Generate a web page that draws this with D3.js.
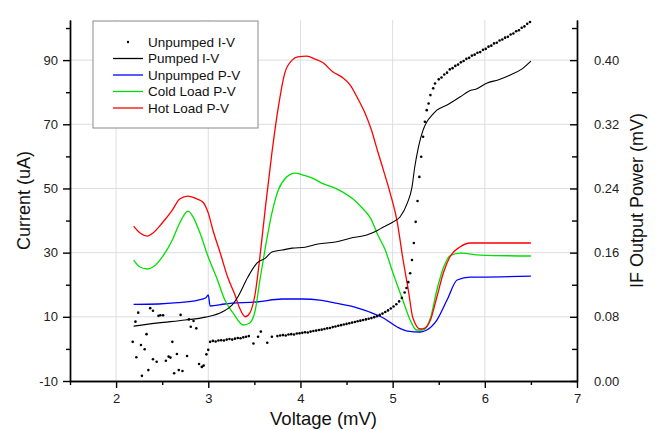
<!DOCTYPE html>
<html>
<head>
<meta charset="utf-8">
<script src="https://cdn.jsdelivr.net/npm/d3@7"></script>
<style>
  body { margin: 0; background: #fff; }
  svg { font-family: "Liberation Sans", Arial, sans-serif; }
</style>
</head>
<body>
<div id="chart"></div>
<script>
// Unpumped I-V (dots), voltage in mV, current in uA
const dotVolts = [2.18, 2.21, 2.24, 2.22, 2.27, 2.28, 2.31, 2.33, 2.35, 2.37, 2.40, 2.40, 2.44, 2.46, 2.48, 2.51,
  2.54, 2.57, 2.59, 2.61, 2.63, 2.66, 2.68, 2.70, 2.72, 2.77, 2.79, 2.81, 2.84, 2.87, 2.90, 2.93, 2.95, 2.98, 3.00,
  3.02, 3.05, 3.08, 3.11, 3.14, 3.17, 3.20, 3.23, 3.26, 3.29, 3.32, 3.35, 3.38, 3.41, 3.44, 3.49, 3.54, 3.57, 3.64,
  3.69, 3.75, 3.78, 3.81, 3.84, 3.87, 3.90, 3.93, 3.96, 3.99, 4.02, 4.05, 4.08, 4.11, 4.14, 4.17, 4.20, 4.23, 4.26,
  4.29, 4.32, 4.35, 4.38, 4.41, 4.44, 4.47, 4.50, 4.53, 4.56, 4.59, 4.62, 4.65, 4.68, 4.71, 4.74, 4.77, 4.80, 4.83,
  4.86, 4.89, 4.92, 4.95, 4.98, 5.01, 5.04, 5.07, 5.10, 5.13, 5.15, 5.17, 5.19, 5.21, 5.23, 5.25, 5.27, 5.29, 5.31,
  5.33, 5.35, 5.37, 5.39, 5.41, 5.44, 5.46, 5.50, 5.53, 5.56, 5.59, 5.62, 5.65, 5.68, 5.71, 5.74, 5.77, 5.80, 5.83,
  5.86, 5.89, 5.92, 5.95, 5.98, 6.01, 6.04, 6.07, 6.10, 6.13, 6.16, 6.19, 6.22, 6.25, 6.28, 6.31, 6.34, 6.37, 6.40,
  6.43, 6.46, 6.49];
const dotCurrent = [2.2, 8.5, 11.3, -2.6, 1.2, -8.4, -0.1, 4.6, -6.6, 12.7, 11.9, -3.2, -4.0, 10.3, 10.5, 10.5,
  -3.7, -2.4, -2.7, 2.2, -7.6, -1.6, -6.6, 10.6, -6.9, -2.2, 9.2, 6.9, 8.7, 6.4, -4.7, -5.6, -5.2, -1.7, -0.3,
  2.2, 2.5, 2.3, 2.6, 2.7, 2.6, 2.9, 3.1, 2.9, 3.2, 3.4, 3.3, 3.6, 3.8, 4.0, 1.7, 3.8, 5.4, 1.9,
  3.8, 4.0, 4.2, 4.3, 4.2, 4.5, 4.6, 4.5, 4.8, 4.9, 5.0, 5.2, 5.1, 5.4, 5.6, 5.7, 5.9, 6.0, 6.2,
  6.4, 6.5, 6.8, 7.0, 7.2, 7.4, 7.6, 7.8, 8.0, 8.2, 8.4, 8.6, 8.8, 9.0, 9.2, 9.4, 9.6, 9.9, 10.2,
  10.6, 11.0, 11.5, 12.0, 12.6, 13.2, 13.9, 14.8, 15.9, 17.6, 19.0, 20.8, 23.6, 27.7, 33.0, 39.6, 46.1, 53.6, 59.9,
  66.1, 70.8, 74.4, 76.5, 79.1, 81.2, 82.7, 84.0, 84.6, 85.5, 86.1, 87.1, 87.5, 88.2, 88.6, 89.3, 89.7, 90.4, 90.7,
  91.4, 91.7, 92.3, 92.5, 93.2, 93.5, 94.2, 94.5, 95.2, 95.4, 96.1, 96.4, 97.0, 97.3, 98.0, 98.3, 99.0, 99.3, 100.1,
  100.5, 101.3, 101.9];

// Pumped I-V (line)
const pumpVolts = [2.19, 2.46, 2.75, 2.97, 3.15, 3.26, 3.32, 3.43, 3.53, 3.62, 3.69, 3.80, 3.91, 4.05, 4.19,
  4.38, 4.54, 4.72, 4.84, 4.90, 5.00, 5.08, 5.16, 5.21, 5.24, 5.28, 5.33, 5.37, 5.43, 5.48, 5.59, 5.73,
  5.85, 5.90, 6.02, 6.15, 6.27, 6.40, 6.50];
const pumpCurrent = [7.1, 8.1, 9.0, 9.9, 11.5, 13.7, 16.2, 22.4, 26.8, 28.3, 30.2, 30.8, 31.4, 31.7, 32.7,
  33.3, 34.5, 35.5, 37.0, 38.0, 39.5, 41.1, 45.5, 50.4, 56.7, 62.9, 68.2, 70.7, 72.9, 74.4, 76.0, 78.5,
  80.6, 80.9, 82.8, 83.9, 85.3, 87.2, 89.7];

// Unpumped P-V (IF power, mV)
const unpVolts = [2.19, 2.46, 2.67, 2.89, 2.97, 3.00, 3.02, 3.18, 3.54, 3.80, 4.02, 4.21, 4.38, 4.54, 4.65,
  4.75, 4.90, 5.05, 5.16, 5.30, 5.37, 5.48, 5.59, 5.70, 5.84, 5.95, 6.50];
const unpPower = [0.0956, 0.0960, 0.0976, 0.1009, 0.1034, 0.1072, 0.0935, 0.0960, 0.0988, 0.1022, 0.1022, 0.1009,
  0.0972, 0.0935, 0.0900, 0.0860, 0.0785, 0.0673, 0.0623, 0.0611, 0.0636, 0.0760, 0.1009, 0.1259, 0.1296,
  0.1296, 0.1308];

// Cold Load P-V
const coldVolts = [2.19, 2.26, 2.34, 2.40, 2.50, 2.61, 2.69, 2.78, 2.83, 2.91, 3.00, 3.10, 3.18, 3.27, 3.38,
  3.45, 3.51, 3.56, 3.62, 3.69, 3.76, 3.85, 3.94, 4.03, 4.13, 4.23, 4.35, 4.46, 4.57, 4.67, 4.76, 4.84,
  4.92, 5.00, 5.11, 5.19, 5.26, 5.33, 5.41, 5.48, 5.55, 5.62, 5.73, 5.95, 6.50];
const coldPower = [0.1508, 0.1421, 0.1396, 0.1421, 0.1545, 0.1757, 0.1969, 0.2118, 0.2056, 0.1844, 0.1545,
  0.1259, 0.1009, 0.0847, 0.0698, 0.0723, 0.0885, 0.1259, 0.1670, 0.2093, 0.2380, 0.2542, 0.2592, 0.2567,
  0.2530, 0.2467, 0.2417, 0.2355, 0.2268, 0.2156, 0.2031, 0.1819, 0.1632, 0.1358, 0.1009, 0.0760, 0.0636,
  0.0636, 0.0785, 0.1134, 0.1408, 0.1558, 0.1595, 0.1570, 0.1558];

// Hot Load P-V
const hotVolts = [2.19, 2.26, 2.34, 2.40, 2.50, 2.61, 2.69, 2.78, 2.88, 2.94, 3.00, 3.05, 3.13, 3.21, 3.29,
  3.34, 3.40, 3.45, 3.51, 3.56, 3.62, 3.69, 3.76, 3.83, 3.91, 3.97, 4.07, 4.16, 4.25, 4.35, 4.45, 4.54,
  4.62, 4.70, 4.77, 4.84, 4.90, 4.97, 5.05, 5.11, 5.17, 5.22, 5.30, 5.35, 5.41, 5.48, 5.55, 5.62, 5.73,
  5.84, 6.06, 6.50];
const hotPower = [0.1931, 0.1844, 0.1807, 0.1844, 0.1969, 0.2131, 0.2268, 0.2305, 0.2268, 0.2231, 0.2093,
  0.1882, 0.1595, 0.1296, 0.1072, 0.0910, 0.0801, 0.0847, 0.1097, 0.1545, 0.2168, 0.2841, 0.3414, 0.3838,
  0.4000, 0.4041, 0.4050, 0.4012, 0.3963, 0.3854, 0.3788, 0.3688, 0.3526, 0.3340, 0.3128, 0.2854, 0.2629,
  0.2355, 0.1981, 0.1533, 0.1134, 0.0785, 0.0648, 0.0660, 0.0760, 0.1047, 0.1346, 0.1545, 0.1670, 0.1720,
  0.1720, 0.1720];

const xMajor = [2, 3, 4, 5, 6, 7];
const xMinor = [1.5, 2.5, 3.5, 4.5, 5.5, 6.5];
const leftMajor = [-10, 10, 30, 50, 70, 90];
const leftMinor = [0, 20, 40, 60, 80, 100];
const rightMajor = [0, 0.08, 0.16, 0.24, 0.32, 0.40];
const rightMinor = [0.04, 0.12, 0.20, 0.28, 0.36, 0.44];

const legendItems = [
  { label: "Unpumped I-V", color: "#000000", type: "dot" },
  { label: "Pumped I-V", color: "#000000", type: "line" },
  { label: "Unpumped P-V", color: "#0000ff", type: "line" },
  { label: "Cold Load P-V", color: "#00e000", type: "line" },
  { label: "Hot Load P-V", color: "#ff0000", type: "line" }
];

const width = 662;
const height = 430;
const plotLeft = 70, plotRight = 577, plotTop = 20, plotBottom = 381;

const svg = d3.select("#chart")
  .append("svg")
  .attr("width", width)
  .attr("height", height);

const x = d3.scaleLinear().domain([1.5, 7]).range([plotLeft, plotRight]);
const yCur = d3.scaleLinear().domain([-10, 102.5]).range([plotBottom, plotTop]);
const yPow = d3.scaleLinear().domain([0, 0.45]).range([plotBottom, plotTop]);

// grid
const grid = svg.append("g").attr("stroke", "#dcdde6").attr("stroke-width", 1);
grid.selectAll(".gx").data(xMajor.filter(d => d < 7)).enter().append("line")
  .attr("x1", d => x(d)).attr("x2", d => x(d))
  .attr("y1", plotTop).attr("y2", plotBottom);
grid.selectAll(".gy").data(leftMajor.filter(d => d > -10)).enter().append("line")
  .attr("x1", plotLeft).attr("x2", plotRight)
  .attr("y1", d => yCur(d)).attr("y2", d => yCur(d));

const zip = (xs, ys) => xs.map((v, i) => [v, ys[i]]);

function drawLine(xs, ys, yScale, color, w) {
  const line = d3.line().x(d => x(d[0])).y(d => yScale(d[1])).curve(d3.curveMonotoneX);
  svg.append("path")
    .datum(zip(xs, ys))
    .attr("d", line)
    .attr("fill", "none")
    .attr("stroke", color)
    .attr("stroke-width", w);
}

drawLine(unpVolts, unpPower, yPow, "#0000ff", 1.3);
drawLine(coldVolts, coldPower, yPow, "#00e000", 1.3);
drawLine(hotVolts, hotPower, yPow, "#ff0000", 1.3);
drawLine(pumpVolts, pumpCurrent, yCur, "#000000", 1.1);

svg.append("g").selectAll("circle")
  .data(zip(dotVolts, dotCurrent))
  .enter()
  .append("circle")
  .attr("cx", d => x(d[0]))
  .attr("cy", d => yCur(d[1]))
  .attr("r", 1.3)
  .attr("fill", "#000");

// legend
const lg = svg.append("g").attr("transform", "translate(93,21)");
lg.append("rect")
  .attr("width", 165).attr("height", 107)
  .attr("fill", "#fff").attr("stroke", "#8a8a8a").attr("stroke-width", 1);
legendItems.forEach((item, i) => {
  const cy = 21 + i * 16.5;
  if (item.type === "dot") {
    lg.append("circle").attr("cx", 35).attr("cy", cy).attr("r", 1.2).attr("fill", item.color);
  } else {
    lg.append("line").attr("x1", 20).attr("x2", 50).attr("y1", cy).attr("y2", cy)
      .attr("stroke", item.color).attr("stroke-width", 1.3);
  }
  lg.append("text").attr("x", 55).attr("y", cy).attr("dy", "0.35em")
    .attr("font-size", 13.5).attr("fill", "#111").text(item.label);
});

// axes
function styleAxis(g) {
  g.selectAll("path, line").attr("stroke", "#000").attr("stroke-width", 1.4);
  g.selectAll("text").attr("font-size", 13).attr("fill", "#222")
    .attr("font-family", '"Liberation Sans", Arial, sans-serif');
}

const plainNum = d => String(d);

svg.append("g").attr("transform", `translate(0,${plotBottom})`)
  .call(d3.axisBottom(x).tickValues(xMajor).tickSize(7).tickSizeOuter(0).tickPadding(6).tickFormat(plainNum))
  .call(styleAxis);
svg.append("g").attr("transform", `translate(0,${plotBottom})`)
  .call(d3.axisBottom(x).tickValues(xMinor).tickSize(4).tickSizeOuter(0).tickFormat(""))
  .call(styleAxis);

svg.append("g").attr("transform", `translate(${plotLeft},0)`)
  .call(d3.axisLeft(yCur).tickValues(leftMajor).tickSize(7).tickSizeOuter(0).tickPadding(5).tickFormat(plainNum))
  .call(styleAxis);
svg.append("g").attr("transform", `translate(${plotLeft},0)`)
  .call(d3.axisLeft(yCur).tickValues(leftMinor).tickSize(4).tickSizeOuter(0).tickFormat(""))
  .call(styleAxis);

svg.append("g").attr("transform", `translate(${plotRight},0)`)
  .call(d3.axisRight(yPow).tickValues(rightMajor).tickSize(-7).tickSizeOuter(0).tickPadding(17).tickFormat(d3.format(".2f")))
  .call(styleAxis);
svg.append("g").attr("transform", `translate(${plotRight},0)`)
  .call(d3.axisRight(yPow).tickValues(rightMinor).tickSize(-5).tickSizeOuter(0).tickFormat(""))
  .call(styleAxis);

// axis titles
svg.append("text")
  .attr("x", (plotLeft + plotRight) / 2).attr("y", 425)
  .attr("text-anchor", "middle").attr("font-size", 18.5).attr("fill", "#111")
  .text("Voltage (mV)");
svg.append("text")
  .attr("transform", `translate(30,${(plotTop + plotBottom) / 2}) rotate(-90)`)
  .attr("text-anchor", "middle").attr("font-size", 18).attr("fill", "#111")
  .text("Current (uA)");
svg.append("text")
  .attr("transform", `translate(643,${(plotTop + plotBottom) / 2}) rotate(-90)`)
  .attr("text-anchor", "middle").attr("font-size", 18).attr("fill", "#111")
  .text("IF Output Power (mV)");
</script>
</body>
</html>
